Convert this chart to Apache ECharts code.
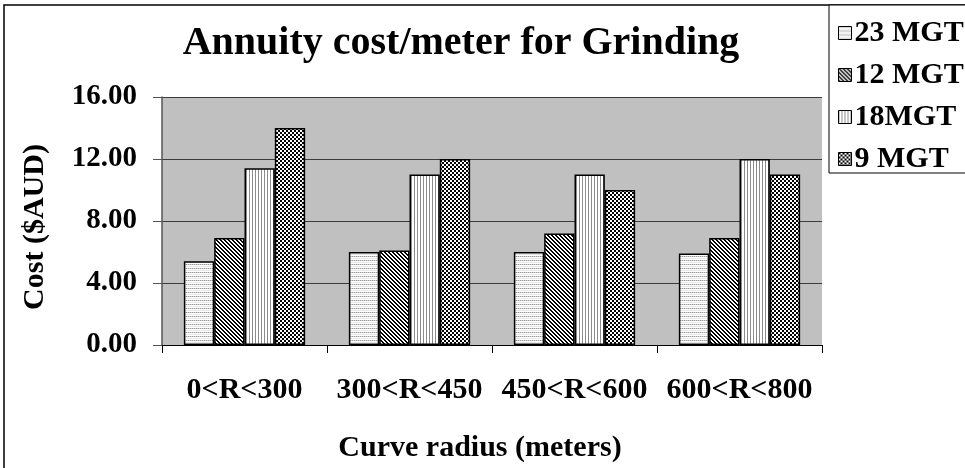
<!DOCTYPE html>
<html>
<head>
<meta charset="utf-8">
<script src="https://cdn.jsdelivr.net/npm/echarts@6/dist/echarts.min.js"></script>
<style>
  html, body { margin: 0; padding: 0; background: #fff; }
  #chart { width: 965px; height: 468px; }
</style>
</head>
<body>
<div id="chart"></div>
<script>
// Curve radius bands
const categories = ['0<R<300', '300<R<450', '450<R<600', '600<R<800'];
// Annuity grinding cost per meter ($AUD) by annual tonnage
const seriesNames = ['23 MGT', '12 MGT', '18MGT', '9 MGT'];
const mgt23 = [5.4, 6.0, 6.0, 5.9];
const mgt12 = [6.9, 6.1, 7.2, 6.9];
const mgt18 = [11.4, 11.0, 11.0, 12.0];
const mgt9 = [14.0, 12.0, 10.0, 11.0];
const yTicks = [0, 4, 8, 12, 16];

// Small monochrome hatch tiles used as bar fills
function tile(w, h, draw) {
  const c = document.createElement('canvas');
  c.width = w; c.height = h;
  const g = c.getContext('2d');
  g.fillStyle = '#ffffff';
  g.fillRect(0, 0, w, h);
  draw(g);
  return { image: c, repeat: 'repeat' };
}
const dottedRows = tile(4, 4, g => {
  g.fillStyle = '#9a9a9a';
  g.fillRect(0, 0, 1, 1);
  g.fillRect(2, 0, 1, 1);
  g.fillStyle = '#d0d0d0';
  g.fillRect(1, 0, 1, 1);
  g.fillRect(3, 0, 1, 1);
  g.fillStyle = '#e8e8e8';
  g.fillRect(0, 2, 4, 1);
});
const diagonal = tile(4, 4, g => {
  g.fillStyle = '#000000';
  for (let i = 0; i < 4; i++) {
    g.fillRect(i, i, 1, 1);
    g.fillRect((i + 1) % 4, i, 1, 1);
  }
});
const vertical = tile(3, 1, g => {
  g.fillStyle = '#8c8c8c';
  g.fillRect(0, 0, 1, 1);
});
const checker = tile(4, 4, g => {
  g.fillStyle = '#000000';
  g.fillRect(0, 0, 2, 2);
  g.fillRect(2, 2, 2, 2);
});
const fills = [dottedRows, diagonal, vertical, checker];
const values = [mgt23, mgt12, mgt18, mgt9];

const font = '"Liberation Serif", "Times New Roman", serif';
const chart = echarts.init(document.getElementById('chart'), null, { renderer: 'canvas' });

chart.setOption({
  backgroundColor: '#ffffff',
  animation: false,
  title: {
    text: 'Annuity cost/meter for Grinding',
    left: 456, top: 19, textAlign: 'center',
    textStyle: { fontFamily: font, fontWeight: 'bold', fontSize: 40, color: '#000' }
  },
  graphic: [
    { type: 'rect', shape: { x: 4, y: 5, width: 1000, height: 500 },
      style: { fill: null, stroke: '#000', lineWidth: 1.5 }, z: -1 },
    { type: 'rect', shape: { x: 829, y: 5, width: 200, height: 168 },
      style: { fill: '#fff', stroke: '#000', lineWidth: 1 }, z: 0 }
  ],
  legend: {
    orient: 'vertical',
    left: 833, top: 13,
    itemWidth: 13, itemHeight: 13, itemGap: 12,
    itemStyle: { borderColor: '#000', borderWidth: 1 },
    icon: 'rect',
    data: seriesNames,
    textStyle: { fontFamily: font, fontWeight: 'bold', fontSize: 30, color: '#000', padding: [0, 0, 0, -2] },
    z: 5
  },
  grid: { left: 162, top: 97, width: 660, height: 249, containLabel: false,
    show: true, backgroundColor: '#c0c0c0', borderWidth: 0 },
  xAxis: {
    type: 'category',
    data: categories,
    name: 'Curve radius (meters)',
    nameLocation: 'middle',
    nameGap: 88,
    nameTextStyle: { fontFamily: font, fontWeight: 'bold', fontSize: 30, color: '#000', padding: [0, 24, 0, 0] },
    axisLine: { lineStyle: { color: '#000', width: 1 } },
    axisTick: { show: true, interval: 0, length: 8, lineStyle: { color: '#000' } },
    axisLabel: { interval: 0, fontFamily: font, fontWeight: 'bold', fontSize: 30, color: '#000', margin: 30 }
  },
  yAxis: {
    type: 'value',
    min: 0, max: 16, interval: 4,
    name: 'Cost ($AUD)',
    nameLocation: 'middle',
    nameGap: 112,
    nameRotate: 90,
    nameTextStyle: { fontFamily: font, fontWeight: 'bold', fontSize: 30, color: '#000', padding: [0, 12, 0, 0] },
    axisLine: { show: true, lineStyle: { color: '#555', width: 1.5 } },
    axisTick: { show: true, length: 9, lineStyle: { color: '#555' } },
    axisLabel: {
      fontFamily: font, fontWeight: 'bold', fontSize: 29, color: '#000', margin: 25,
      formatter: v => (yTicks.includes(v) ? v.toFixed(2) : '')
    },
    splitLine: { show: true, lineStyle: { color: '#3c3c3c', width: 1 } }
  },
  series: seriesNames.map((name, i) => ({
    name,
    type: 'bar',
    data: values[i],
    barGap: '0%',
    barCategoryGap: '26.5%',
    itemStyle: { color: fills[i], borderColor: '#000', borderWidth: 1.5 },
    emphasis: { disabled: true }
  }))
});
</script>
</body>
</html>
